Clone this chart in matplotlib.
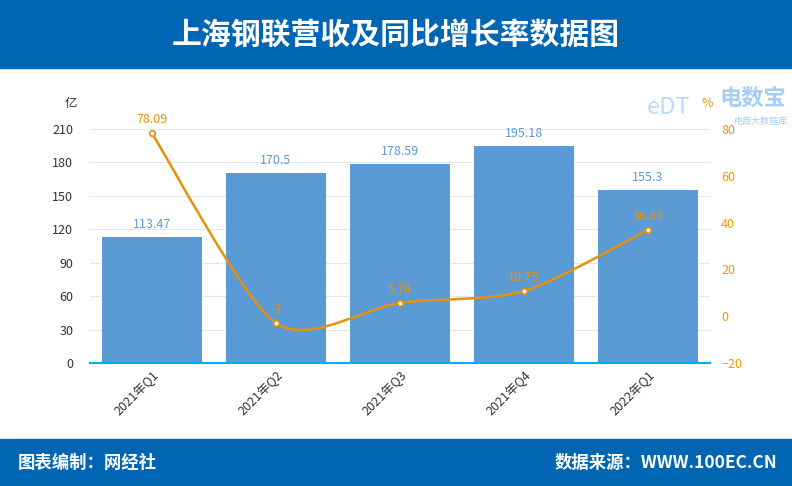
import numpy as np
import matplotlib
matplotlib.use("Agg")
import matplotlib.pyplot as plt
from matplotlib.patches import Rectangle, PathPatch
from matplotlib.path import Path

plt.rcParams['font.family'] = ['Noto Sans CJK SC', 'DejaVu Sans']

# 数据
quarters = ["2021年Q1", "2021年Q2", "2021年Q3", "2021年Q4", "2022年Q1"]
revenue = [113.47, 170.5, 178.59, 195.18, 155.3]   # 亿
growth = [78.09, -3, 5.74, 10.75, 36.89]          # %
rev_labels = ["113.47", "170.5", "178.59", "195.18", "155.3"]
growth_labels = ["78.09", "-3", "5.74", "10.75", "36.89"]

BLUE = "#0066B3"
BAR = "#5B9BD5"
ORANGE = "#E8900C"

fig = plt.figure(figsize=(7.92, 4.86), dpi=100)

# 顶部和底部色带
fig.patches.append(Rectangle((0, 1 - 68 / 486), 1, 68 / 486, transform=fig.transFigure,
                             color=BLUE, zorder=0))
fig.patches.append(Rectangle((0, 0), 1, 47 / 486, transform=fig.transFigure,
                             color=BLUE, zorder=0))
fig.text(0.5, 1 - 36 / 486, "上海钢联营收及同比增长率数据图", color="white",
         fontsize=21.5, fontweight="bold", ha="center", va="center")
fig.text(18 / 792, 23 / 486, "图表编制：网经社", color="white", fontsize=12.5,
         fontweight="bold", ha="left", va="center")
fig.text(777 / 792, 23 / 486, "数据来源：WWW.100EC.CN", color="white", fontsize=12.5,
         fontweight="bold", ha="right", va="center")

# 水印
fig.text(719 / 792, 1 - 98 / 486, "电数宝", color="#8EC3F0", fontsize=16,
         fontweight="bold", ha="left", va="center", alpha=0.8)
fig.text(734 / 792, 1 - 121 / 486, "电商大数据库", color="#8EC3F0", fontsize=6.5,
         ha="left", va="center", alpha=0.8)
fig.text(668 / 792, 1 - 108 / 486, "eDT", color="#8EC3F0", fontsize=17,
         ha="center", va="center", alpha=0.6)

ax = fig.add_axes([90 / 792, 1 - 363 / 486, 620 / 792, 234 / 486])
x = np.arange(len(quarters))
ax.bar(x, revenue, width=0.8, color=BAR, zorder=2)
for xi, v, s in zip(x, revenue, rev_labels):
    ax.text(xi, v + 5, s, color=BAR, fontsize=9, ha="center", va="bottom")

ax.set_xlim(-0.5, len(quarters) - 0.5)
ax.set_ylim(0, 210)
ax.set_yticks(np.arange(0, 211, 30))
ax.yaxis.grid(True, color="#E6E6E6", linewidth=0.8, zorder=0)
ax.set_axisbelow(True)
for side in ["left", "right", "top"]:
    ax.spines[side].set_visible(False)
ax.spines["bottom"].set_color("#00B0F0")
ax.spines["bottom"].set_linewidth(1.5)
ax.tick_params(axis="y", length=0, labelsize=9, labelcolor="#333333", pad=12)
ax.tick_params(axis="x", length=0, labelsize=9, labelcolor="#333333", pad=4)
ax.set_xticks(x)
ax.set_xticklabels(quarters, rotation=45, ha="right", rotation_mode="anchor")
ax.text(-0.03, 1.08, "亿", transform=ax.transAxes, fontsize=9, color="#333333",
        ha="center", va="bottom")

ax2 = ax.twinx()
ax2.set_ylim(-20, 80)
ax2.set_yticks(np.arange(-20, 81, 20))
for side in ["left", "right", "top", "bottom"]:
    ax2.spines[side].set_visible(False)
ax2.tick_params(axis="y", length=0, labelsize=9, labelcolor="#F39800", pad=8)
ax2.text(0.995, 1.08, "%", transform=ax2.transAxes, fontsize=9, color="#F39800",
         ha="center", va="bottom")

# 平滑曲线 (贝塞尔)
pts = np.column_stack([x, growth]).astype(float)
n = len(pts)
verts = [tuple(pts[0])]
codes = [Path.MOVETO]
k = 0.13
for i in range(n - 1):
    p0 = pts[i - 1] if i > 0 else pts[i]
    p1 = pts[i]
    p2 = pts[i + 1]
    p3 = pts[i + 2] if i + 2 < n else pts[i + 1]
    c1 = p1 + (p2 - p0) * k
    c2 = p2 - (p3 - p1) * k
    verts += [tuple(c1), tuple(c2), tuple(p2)]
    codes += [Path.CURVE4] * 3
ax2.add_patch(PathPatch(Path(verts, codes), fill=False, edgecolor=ORANGE,
                        linewidth=1.8, zorder=3))
ax2.plot(x, growth, linestyle="none", marker="o", markersize=4,
         markerfacecolor="white", markeredgecolor=ORANGE, markeredgewidth=1.2, zorder=4)
for xi, v, s in zip(x, growth, growth_labels):
    ax2.text(xi, v + 3, s, color=ORANGE, fontsize=9, ha="center", va="bottom", zorder=5)

fig.savefig("out.png", dpi=100)
